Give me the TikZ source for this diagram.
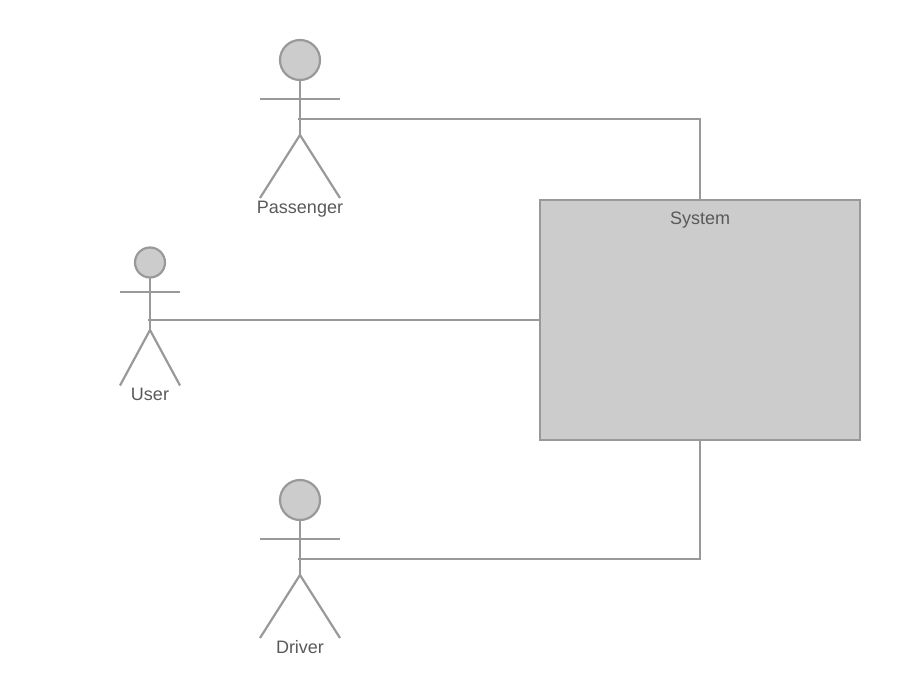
\documentclass[tikz,border=0pt]{standalone}
\usepackage{fontspec}
\setmainfont{Liberation Sans}
\definecolor{linegray}{HTML}{999999}
\definecolor{fillgray}{HTML}{CCCCCC}
\definecolor{textgray}{HTML}{595959}
\tikzset{
  x=1pt,y=-1pt,
  stroke/.style={draw=linegray,line width=2.2pt},
  limb/.style={stroke,line cap=butt},
  label text/.style={text=textgray,font=\fontsize{18}{20}\selectfont,inner sep=0pt,anchor=base},
  conn/.style={stroke,line join=miter},
  sysbox/.style={stroke,fill=fillgray,rectangle,minimum width=320pt,minimum height=240pt,inner sep=0pt,outer sep=0pt,anchor=north west},
  headshape/.style={stroke,fill=fillgray,circle,inner sep=0pt,outer sep=0pt,minimum size=#1},
}
\begin{document}
\begin{tikzpicture}
\useasboundingbox (0,0) rectangle (900,700);
% System
\node[sysbox] (sys) at (540,200) {};
\node[label text] (systext) at (700,224.6) {System};
% Passenger
\node[headshape=40pt] (phead) at (300,60) {};
\coordinate (phip) at (300,135);
\coordinate (parmL) at (260,99);
\coordinate (parmR) at (340,99);
\coordinate (plegL) at (260,198);
\coordinate (plegR) at (340,198);
\coordinate (pjoin) at (298,119);
\draw[limb] (phead.south) -- (phip);
\draw[limb] (parmL) -- (parmR);
\draw[limb] (plegL) -- (phip) -- (plegR);
\node[label text] (ptext) at (300,213.5) {Passenger};
% User
\node[headshape=30pt] (uhead) at (150,262.5) {};
\coordinate (uhip) at (150,330);
\coordinate (uarmL) at (120,292);
\coordinate (uarmR) at (180,292);
\coordinate (ulegL) at (120,385.5);
\coordinate (ulegR) at (180,385.5);
\coordinate (ujoin) at (148,320);
\draw[limb] (uhead.south) -- (uhip);
\draw[limb] (uarmL) -- (uarmR);
\draw[limb] (ulegL) -- (uhip) -- (ulegR);
\node[label text] (utext) at (150,400.5) {User};
% Driver
\node[headshape=40pt] (dhead) at (300,500) {};
\coordinate (dhip) at (300,575);
\coordinate (darmL) at (260,539);
\coordinate (darmR) at (340,539);
\coordinate (dlegL) at (260,638);
\coordinate (dlegR) at (340,638);
\coordinate (djoin) at (298,559);
\draw[limb] (dhead.south) -- (dhip);
\draw[limb] (darmL) -- (darmR);
\draw[limb] (dlegL) -- (dhip) -- (dlegR);
\node[label text] (dtext) at (300,653.5) {Driver};
% Connectors
\draw[conn] (pjoin) -| (sys.north);
\draw[conn] (ujoin) -- (sys.west);
\draw[conn] (djoin) -| (sys.south);
\end{tikzpicture}
\end{document}
